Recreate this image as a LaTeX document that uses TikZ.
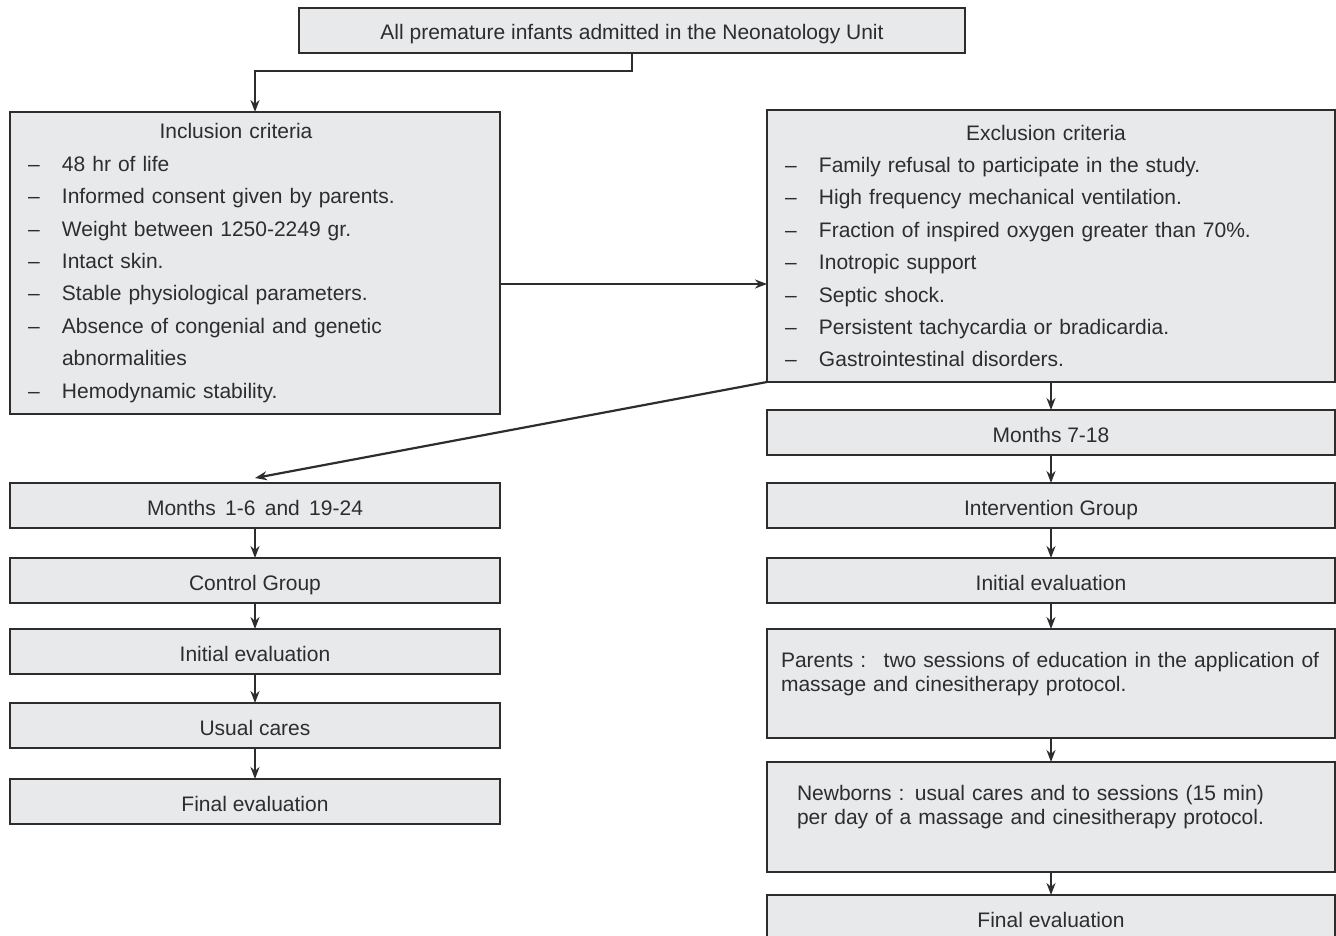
\documentclass[tikz,border=0pt]{standalone}
\usepackage{fontspec}
\setmainfont{Liberation Sans}
\usetikzlibrary{arrows.meta, positioning}
\definecolor{boxgray}{RGB}{232, 233, 235}
\definecolor{lineink}{RGB}{45, 45, 45}
\newcommand{\critem}[1]{\makebox[34pt][l]{\textendash}#1}
\tikzset{
  sbox/.style={
    rectangle, draw=lineink, fill=boxgray, line width=2.6pt,
    minimum width=490pt, minimum height=45pt, inner sep=0pt, outer sep=0pt,
    text height=19pt, text depth=0pt,
    font=\fontsize{21}{24}\selectfont, text=lineink
  },
  rbox/.style={sbox, minimum width=568pt},
  cbox/.style={
    rectangle, draw=lineink, fill=boxgray, line width=2.6pt,
    inner xsep=18pt, inner ysep=0pt, outer sep=0pt, align=left,
    font=\fontsize{21}{32.4}\selectfont, text=lineink
  },
  tbox/.style={
    rectangle, draw=lineink, fill=boxgray, line width=2.6pt,
    minimum width=568pt, text width=540pt, inner xsep=14pt, inner ysep=0pt,
    outer sep=0pt, align=left, font=\fontsize{21}{24}\selectfont, text=lineink
  },
  arr/.style={-{Stealth[length=12pt,width=9pt]}, line width=2.2pt, color=lineink},
}
\begin{document}
\begin{tikzpicture}[x=1pt, y=-1pt]
  \useasboundingbox (0,0) rectangle (1336,936);
  % entry
  \node[sbox, minimum width=666pt] (all) at (632,30.5)
    {All premature infants admitted in the Neonatology Unit};
  % criteria
  \node[cbox, text width=454pt, minimum height=302pt] (incl) at (255,263) {%
    \makebox[416pt]{Inclusion criteria}\\
    \critem{48 hr of life}\\
    \critem{Informed consent given by parents.}\\
    \critem{Weight between 1250-2249 gr.}\\
    \critem{Intact skin.}\\
    \critem{Stable physiological parameters.}\\
    \critem{Absence of congenial and genetic}\\
    \hspace*{34pt}abnormalities\\
    \critem{Hemodynamic stability.}};
  \node[cbox, text width=532pt, minimum height=272pt] (excl) at (1051,246) {%
    \makebox[522pt]{Exclusion criteria}\\
    \critem{Family refusal to participate in the study.}\\
    \critem{High frequency mechanical ventilation.}\\
    \critem{Fraction of inspired oxygen greater than 70\%.}\\
    \critem{Inotropic support}\\
    \critem{Septic shock.}\\
    \critem{Persistent tachycardia or bradicardia.}\\
    \critem{Gastrointestinal disorders.}};
  % control arm
  \node[sbox] (ctlmonths) at (255,505.5) {Months\, 1-6\, and\, 19-24};
  \node[sbox, below=30pt of ctlmonths] (ctlgroup) {Control Group};
  \node[sbox, below=26pt of ctlgroup] (ctlinit) {Initial evaluation};
  \node[sbox, below=29pt of ctlinit] (ctlcare) {Usual cares};
  \node[sbox, below=31pt of ctlcare] (ctlfinal) {Final evaluation};
  % intervention arm
  \node[rbox, below=28pt of excl] (intmonths) {Months 7-18};
  \node[rbox, below=28pt of intmonths] (intgroup) {Intervention Group};
  \node[rbox, below=30pt of intgroup] (intinit) {Initial evaluation};
  \node[tbox, minimum height=109pt, below=26pt of intinit] (parents)
    {Parents :\,\, two sessions of education in the application of\\
     massage and cinesitherapy protocol.\\ \mbox{}};
  \node[tbox, minimum height=110pt, text width=508pt, inner xsep=30pt,
    below=24pt of parents] (newborns)
    {Newborns : usual cares and to sessions (15 min)\\
     per day of a massage and cinesitherapy protocol.\\ \mbox{}};
  \node[rbox, minimum height=46pt, below=23pt of newborns] (intfinal) {Final evaluation};
  % connectors
  \draw[arr] (all.south) -- ++(0,18) -| (incl.north);
  \coordinate (mid) at ([yshift=-21pt]incl.east);
  \draw[arr] (mid) -- (mid -| excl.west);
  \draw[arr] (excl.south west) -- ([yshift=5pt]ctlmonths.north);
  \draw[arr] (ctlmonths) -- (ctlgroup); \draw[arr] (ctlgroup) -- (ctlinit);
  \draw[arr] (ctlinit) -- (ctlcare); \draw[arr] (ctlcare) -- (ctlfinal);
  \draw[arr] (excl) -- (intmonths); \draw[arr] (intmonths) -- (intgroup);
  \draw[arr] (intgroup) -- (intinit); \draw[arr] (intinit) -- (parents);
  \draw[arr] (parents) -- (newborns); \draw[arr] (newborns) -- (intfinal);
\end{tikzpicture}
\end{document}
